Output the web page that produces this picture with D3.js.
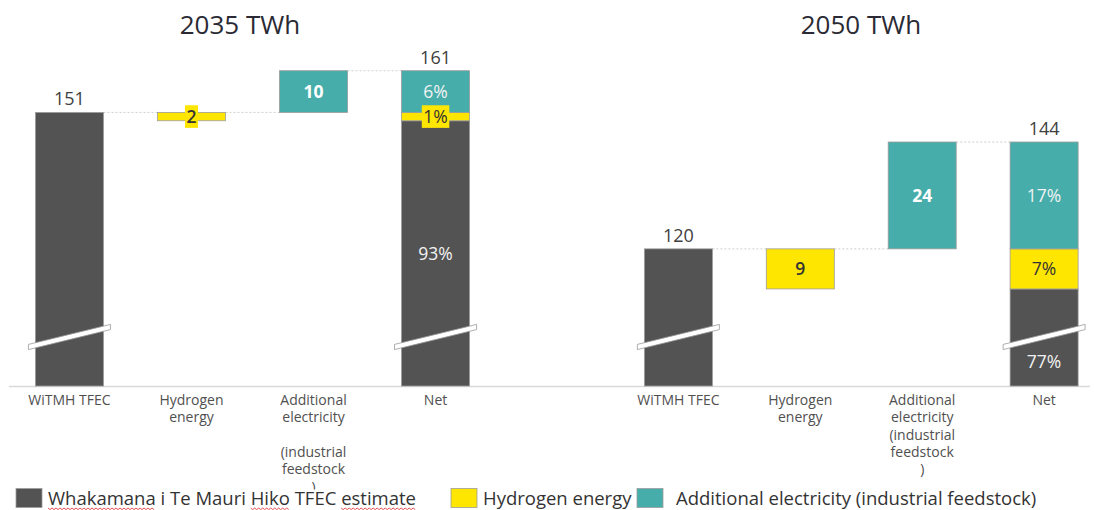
<!DOCTYPE html>
<html><head><meta charset="utf-8">
<script src="https://cdn.jsdelivr.net/npm/d3@7"></script>
<style>
html,body{margin:0;padding:0;background:#fff;}
svg{display:block;font-family:"Open Sans",sans-serif;}
</style></head>
<body><svg id="chart" width="1094" height="510"></svg>
<script>
// ---------------- data ----------------
const panelTitles = ["2035 TWh", "2050 TWh"];
const categories = ["WiTMH TFEC", "Hydrogen energy", "Additional electricity", "Net"];
const catLabels2035 = [["WiTMH TFEC"], ["Hydrogen", "energy"], ["Additional", "electricity", "", "(industrial", "feedstock", ")"], ["Net"]];
const catLabels2050 = [["WiTMH TFEC"], ["Hydrogen", "energy"], ["Additional", "electricity", "(industrial", "feedstock", ")"], ["Net"]];
const baseTFEC = [151, 120];          // WiTMH TFEC estimate (TWh)
const hydrogenTWh = [2, 9];           // Hydrogen energy (TWh)
const additionalElecTWh = [10, 24];   // Additional electricity (TWh)
const netTWh = [161, 144];            // Net (TWh)
const netShareTFEC = ["93%", "77%"];
const netShareHydrogen = ["1%", "7%"];
const netShareElec = ["6%", "17%"];
const axisFloor = [85.4, 89.2];       // value shown at the (broken) axis baseline
const legendLabels = ["Whakamana i Te Mauri Hiko TFEC estimate", "Hydrogen energy", "Additional electricity (industrial feedstock)"];

// ---------------- styles / layout ----------------
const C_DARK = "#535353", C_YELLOW = "#FFE600", C_TEAL = "#46ADAA";
const W = 1094, H = 510;
const baseY = 386;
const panelRanges = [[11, 494], [620, 1102.5]];
const panelTop = [70.7, 142];
const titleX = [240, 861];
const breakY = 337;
const catLabels = [catLabels2035, catLabels2050];

const svg = d3.select("#chart");

// axis base line (continuous across both panels)
svg.append("line").attr("x1", 9).attr("x2", 1090).attr("y1", baseY + 0.5).attr("y2", baseY + 0.5)
  .attr("stroke", "#d9d9d9").attr("stroke-width", 1.5);

for (let i = 0; i < 2; i++) {
  const g = svg.append("g");
  const x = d3.scaleBand().domain(categories).range(panelRanges[i]).paddingInner(0.442).paddingOuter(0.2);
  const y = d3.scaleLinear().domain([axisFloor[i], netTWh[i]]).range([baseY, panelTop[i]]);
  const bw = x.bandwidth();
  const base = baseTFEC[i], h = hydrogenTWh[i], e = additionalElecTWh[i], net = netTWh[i], fl = axisFloor[i];

  // title
  g.append("text").attr("x", titleX[i]).attr("y", 34).attr("text-anchor", "middle")
    .attr("font-size", 26).attr("fill", "#2a2a34").text(panelTitles[i]);

  const segs = [
    {cat: categories[0], v0: fl, v1: base, color: C_DARK, brk: true},
    {cat: categories[1], v0: base - h, v1: base, color: C_YELLOW},
    {cat: categories[2], v0: base, v1: base + e, color: C_TEAL},
    {cat: categories[3], v0: fl, v1: base - h, color: C_DARK, brk: true},
    {cat: categories[3], v0: base - h, v1: base, color: C_YELLOW},
    {cat: categories[3], v0: base, v1: net, color: C_TEAL}
  ];

  // connectors
  const conn = [
    {from: categories[0], to: categories[1], v: base},
    {from: categories[1], to: categories[2], v: base},
    {from: categories[2], to: categories[3], v: base + e}
  ];
  g.selectAll(".conn").data(conn).join("line")
    .attr("x1", d => x(d.from) + bw).attr("x2", d => x(d.to))
    .attr("y1", d => y(d.v)).attr("y2", d => y(d.v))
    .attr("stroke", "#cfcfcf").attr("stroke-width", 1).attr("stroke-dasharray", "2,2");

  // bars
  g.selectAll(".seg").data(segs).join("rect")
    .attr("x", d => x(d.cat)).attr("y", d => y(d.v1))
    .attr("width", bw).attr("height", d => y(d.v0) - y(d.v1))
    .attr("fill", d => d.color).attr("stroke", "#9c9c9c").attr("stroke-width", 0.8);

  // break marks
  g.selectAll(".brk").data(segs.filter(d => d.brk)).join("polygon")
    .attr("points", d => {
      const xl = x(d.cat) - 7, xr = x(d.cat) + bw + 7, yl = breakY + 10, yr = breakY - 10, t = 2.6;
      return [[xl, yl - t], [xr, yr - t], [xr, yr + t], [xl, yl + t]].map(p => p.join(",")).join(" ");
    })
    .attr("fill", "#fff").attr("stroke", "#9a9a9a").attr("stroke-width", 0.8);

  // top totals
  const totals = [{cat: categories[0], v: base}, {cat: categories[3], v: net}];
  g.selectAll(".tot").data(totals).join("text")
    .attr("x", d => x(d.cat) + bw / 2).attr("y", d => y(d.v) - 7)
    .attr("text-anchor", "middle").attr("font-size", 18).attr("fill", "#404040").text(d => d.v);

  // inner labels
  const darkCenter = (y(fl) + y(base - h)) / 2;
  const darkLabelY = (y(fl) - y(base - h)) > 150 ? darkCenter : baseY - 24;
  const inner = [
    {cat: categories[1], cy: (y(base - h) + y(base)) / 2, txt: String(h), fill: "#333", w: 600, box: true},
    {cat: categories[2], cy: (y(base) + y(base + e)) / 2, txt: String(e), fill: "#fff", w: 700},
    {cat: categories[3], cy: (y(base) + y(net)) / 2, txt: netShareElec[i], fill: "#f2f2f2", w: 400},
    {cat: categories[3], cy: (y(base - h) + y(base)) / 2, txt: netShareHydrogen[i], fill: "#333", w: 400, box: true},
    {cat: categories[3], cy: darkLabelY, txt: netShareTFEC[i], fill: "#f2f2f2", w: 400}
  ];
  inner.forEach(d => {
    const lg = g.append("g");
    const t = lg.append("text").attr("x", x(d.cat) + bw / 2).attr("y", d.cy).attr("dy", "0.36em")
      .attr("text-anchor", "middle").attr("font-size", 17.5).attr("font-weight", d.w)
      .attr("fill", d.fill).text(d.txt);
    if (d.box) {
      const bb = t.node().getBBox();
      lg.insert("rect", "text").attr("x", bb.x - 1.5).attr("y", d.cy - 11.3)
        .attr("width", bb.width + 3).attr("height", 22.6).attr("fill", C_YELLOW);
    }
  });

  // category axis
  const ax = g.append("g").attr("transform", `translate(0,${baseY})`)
    .call(d3.axisBottom(x).tickSize(0).tickPadding(0));
  ax.select(".domain").remove();
  ax.attr("font-size", 14).attr("font-family", '"Open Sans", sans-serif').attr("color", "#505050");
  ax.selectAll(".tick text").each(function(d, j) {
    const t = d3.select(this).text(null).attr("dy", null).attr("y", null);
    catLabels[i][j].forEach((ln, k) => {
      t.append("tspan").attr("x", 0).attr("y", 19 + k * 17.3).text(ln);
    });
  });
}

// ---------------- legend ----------------
svg.append("rect").attr("x", 0).attr("y", 489.5).attr("width", W).attr("height", H - 489.5).attr("fill", "#fff");
const legColors = [C_DARK, C_YELLOW, C_TEAL];
const legSwatchX = [16, 451, 637];
const legTextX = [48, 483, 676];
const leg = svg.append("g");
legendLabels.forEach((lab, k) => {
  leg.append("rect").attr("x", legSwatchX[k]).attr("y", 488.5).attr("width", 26).attr("height", 19)
    .attr("fill", legColors[k]).attr("stroke", "#9c9c9c").attr("stroke-width", 0.8);
  const t = leg.append("text").attr("x", legTextX[k]).attr("y", 505).attr("font-size", 18.5)
    .attr("fill", "#333").text(lab);
  if (k === 0) {
    // spell-check squiggles present in the original screenshot
    ["Whakamana", "Hiko", "estimate"].forEach(wd => {
      const idx = lab.indexOf(wd);
      const node = t.node();
      const x0 = legTextX[k] + node.getSubStringLength(0, idx);
      const x1 = x0 + node.getSubStringLength(idx, wd.length);
      const pts = [];
      for (let xx = x0, s = 0; xx <= x1; xx += 2, s++) pts.push([xx, 508 + (s % 2 ? 1.6 : 0)]);
      leg.append("path").attr("d", d3.line()(pts)).attr("fill", "none")
        .attr("stroke", "#e04040").attr("stroke-width", 0.9);
    });
  }
});
</script>
</body></html>
